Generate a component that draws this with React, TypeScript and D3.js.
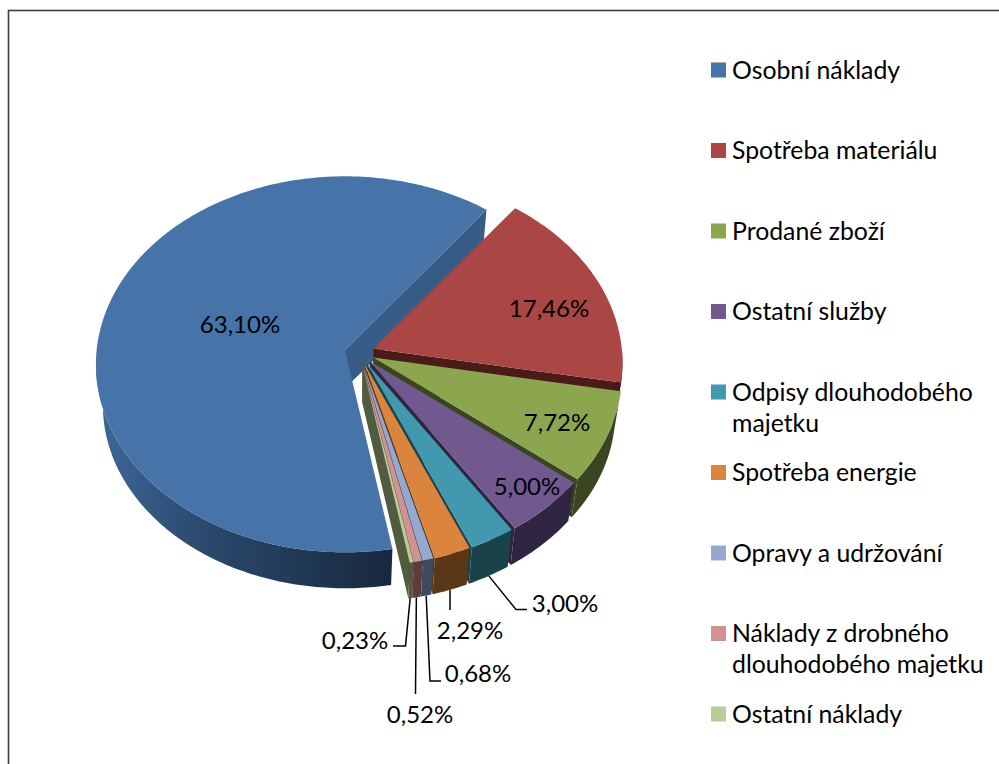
import React from 'react';
import * as d3 from 'd3';

const categories = [
  'Osobní náklady',
  'Spotřeba materiálu',
  'Prodané zboží',
  'Ostatní služby',
  'Odpisy dlouhodobého majetku',
  'Spotřeba energie',
  'Opravy a udržování',
  'Náklady z drobného dlouhodobého majetku',
  'Ostatní náklady',
];
const shares = [63.1, 17.46, 7.72, 5.0, 3.0, 2.29, 0.68, 0.52, 0.23];
const topColors = ['#4673a8', '#aa4643', '#8ba64f', '#71588f', '#4198af', '#db843d', '#93a9cf', '#d19392', '#b9cd96'];
const wallColors = ['#375c86', '#4a1b18', '#3b4620', '#2f2540', '#1a424b', '#5a3716', '#3e4a5f', '#5f3b3b', '#515b3f'];

// legend text broken the way the original wraps it
const legendLines = [
  ['Osobní náklady'],
  ['Spotřeba materiálu'],
  ['Prodané zboží'],
  ['Ostatní služby'],
  ['Odpisy dlouhodobého', 'majetku'],
  ['Spotřeba energie'],
  ['Opravy a udržování'],
  ['Náklady z drobného', 'dlouhodobého majetku'],
  ['Ostatní náklady'],
];

// label centre, then leader bend points (the leader starts on the slice's lower rim)
const labelPos: [number, number][] = [
  [240, 323], [549, 307], [557, 421], [527, 485], [565, 602], [470, 629], [478, 672], [420, 713], [355, 639],
];
const leaders: ([number, number][] | null)[] = [
  null, null, null, null,
  [[516, 609.5], [527, 609.5]],
  [[450, 610]],
  [[430, 681], [441, 681]],
  [[415.5, 694]],
  [[405.5, 646], [393, 646]],
];

const font = 'Lato, "Noto Sans", sans-serif';
const labelSize = 24;
const legendSize = 24.8;

const W = 999;
const H = 764;
const baseX = 359.5;
const baseY = 353;
const explode = 15;
const rx = 249;
const ry = 188;
const centerDrop = 14; // ellipse centre sits below the apex because of the perspective
const depth = 38;
const rad = Math.PI / 180;

const pie = d3.pie<number>().sort(null).value(d => d)
  .startAngle(170 * rad)
  .endAngle(530 * rad);

// the picture is a perspective view, so the rim angles drift a little from the true ones
const warp = d3.scaleLinear()
  .domain([37, 100, 128, 146, 157, 170, 397])
  .range([-2.5, -4, -2.9, -1.4, -1.6, -1, -2.5]);
const rimAngle = (t: number) => {
  const deg = ((t / rad) % 360 + 360) % 360;
  const d = deg < 37 ? deg + 360 : deg;
  return t + warp(d) * rad;
};

const line = d3.line();

const legendY = d3.scaleLinear().domain([0, categories.length - 1]).range([70, 714]);

function App() {
  const arcs = pie(shares);

  const slices = arcs.map((a, i) => {
    const mid = (a.startAngle + a.endAngle) / 2;
    const ax = baseX + explode * Math.sin(mid);
    const ay = baseY - explode * Math.cos(mid) * (ry / rx);
    const topRim = (t0: number): [number, number] => {
      const t = rimAngle(t0);
      return [ax + rx * Math.sin(t), ay + centerDrop - ry * Math.cos(t)];
    };
    const lowRim = (t0: number): [number, number] => {
      const t = rimAngle(t0);
      return [ax + rx * 0.972 * Math.sin(t), ay + centerDrop + 41 - ry * 0.973 * Math.cos(t)];
    };
    const steps = Math.max(4, Math.ceil((a.endAngle - a.startAngle) / rad));
    const ts = d3.range(steps + 1).map(k => a.startAngle + ((a.endAngle - a.startAngle) * k) / steps);
    // only the part of the rim that faces the viewer gets an outer wall
    const front = ts.filter(t => Math.cos(t) < 0.02);
    const apex: [number, number] = [ax, ay];
    const apexLow: [number, number] = [ax, ay + depth];
    const top = line([apex, ...ts.map(topRim)]) + 'Z';
    const outer = line([...front.map(topRim), ...front.map(lowRim).reverse()]) + 'Z';
    const endWall = line([apex, topRim(a.endAngle), lowRim(a.endAngle), apexLow]) + 'Z';
    const midLow = lowRim(mid);
    return { i, top, outer, endWall, midLow };
  });

  return (
    <svg width={W} height={H} viewBox={`0 0 ${W} ${H}`} style={{ position: 'absolute', left: 0, top: 0, display: 'block' }}>
      <defs>
        <linearGradient id="blueWall" gradientUnits="userSpaceOnUse" x1={96} x2={392} y1={0} y2={0}>
          <stop offset="0" stopColor="#3f6899" />
          <stop offset="0.35" stopColor="#2b4a6e" />
          <stop offset="0.7" stopColor="#203854" />
          <stop offset="1" stopColor="#18283e" />
        </linearGradient>
      </defs>
      <rect x={0} y={0} width={W} height={H} fill="#fff" />
      <rect x={8.5} y={10.5} width={W + 20} height={H + 20} fill="none" stroke="#3c3c3c" strokeWidth={1.6} />

      {slices.map(s => (
        <g key={s.i}>
          <path d={s.endWall} fill={wallColors[s.i]} />
          <path d={s.outer} fill={s.i === 0 ? 'url(#blueWall)' : wallColors[s.i]} />
          <path d={s.top} fill={topColors[s.i]} />
        </g>
      ))}

      {slices.map(s => {
        const bends = leaders[s.i];
        if (!bends) return null;
        return (
          <path key={s.i} d={line([s.midLow, ...bends]) as string} fill="none" stroke="#000" strokeWidth={1.5} />
        );
      })}

      {shares.map((v, i) => (
        <text
          key={i}
          x={labelPos[i][0]}
          y={labelPos[i][1]}
          textAnchor="middle"
          dominantBaseline="central"
          fontFamily={font}
          fontSize={labelSize}
          fill="#000"
        >
          {v.toFixed(2).replace('.', ',')}%
        </text>
      ))}

      {categories.map((c, i) => (
        <g key={c}>
          <rect x={711} y={legendY(i) - 7.5} width={15} height={15} fill={topColors[i]} />
          <text fontFamily={font} fontSize={legendSize} fill="#000">
            {legendLines[i].map((t, k) => (
              <tspan key={k} x={732} y={legendY(i) - 1 + 31 * k} dominantBaseline="central">
                {t}
              </tspan>
            ))}
          </text>
        </g>
      ))}
    </svg>
  );
}

export default App;
